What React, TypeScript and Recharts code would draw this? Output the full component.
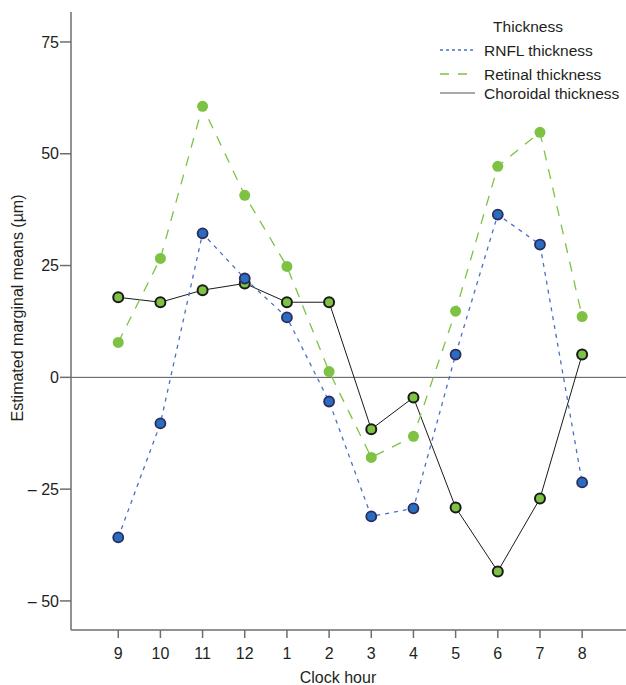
import {
  Line,
  LineChart,
  ReferenceLine,
  XAxis,
  YAxis,
} from "recharts";

const clockHours = ["9", "10", "11", "12", "1", "2", "3", "4", "5", "6", "7", "8"];
const rnfl = [-35.8, -10.3, 32.2, 22.1, 13.4, -5.4, -31.1, -29.3, 5.1, 36.4, 29.7, -23.5];
const retinal = [7.8, 26.6, 60.6, 40.7, 24.8, 1.3, -17.9, -13.2, 14.8, 47.2, 54.8, 13.6];
const choroidal = [17.9, 16.8, 19.5, 21.0, 16.8, 16.8, -11.6, -4.5, -29.1, -43.4, -27.1, 5.1];
const yTicks = [-50, -25, 0, 25, 50, 75];

const data = clockHours.map((hour, i) => ({
  idx: i,
  hour,
  rnfl: rnfl[i],
  retinal: retinal[i],
  choroidal: choroidal[i],
}));

const font = "'Liberation Sans', Arial, sans-serif";
const textColor = "#231f20";
const axisColor = "#6d6e71";
const blue = "#4a6fc6";
const green = "#7dc242";

const legendItems = [
  { label: "RNFL thickness", color: blue, dash: "3 3", width: 1.5 },
  { label: "Retinal thickness", color: green, dash: "9 9", width: 1.5 },
  { label: "Choroidal thickness", color: "#555", dash: undefined, width: 1.2 },
];

function ThicknessLegend() {
  return (
    <svg
      width={190}
      height={90}
      style={{ fontFamily: font, display: "block", position: "absolute", left: 436, top: 10 }}
    >
      <text x={92} y={22} textAnchor="middle" fontSize={15.5} fill={textColor}>
        Thickness
      </text>
      {legendItems.map((item, i) => {
        const y = [40, 64, 83][i];
        return (
          <g key={item.label}>
            <line
              x1={4}
              x2={39}
              y1={y}
              y2={y}
              stroke={item.color}
              strokeWidth={item.width}
              strokeDasharray={item.dash}
            />
            <text x={48} y={y + 5.5} fontSize={15.5} fill={textColor}>
              {item.label}
            </text>
          </g>
        );
      })}
    </svg>
  );
}

const formatY = (v: number) => (v < 0 ? `\u2013 ${Math.abs(v)}` : `${v}`);

export default function App() {
  return (
    <div style={{ position: "absolute", left: 0, top: 0, width: 626, height: 685, background: "#fff" }}>
      <LineChart
        width={626}
        height={685}
        data={data}
        margin={{ top: 12, right: 0, bottom: 0, left: 0 }}
        style={{ fontFamily: font }}
      >
        <XAxis
          dataKey="idx"
          type="number"
          domain={[-1.12, 12.04]}
          ticks={data.map((d) => d.idx)}
          tickFormatter={(v: number) => clockHours[v]}
          height={55}
          stroke={axisColor}
          strokeWidth={1.5}
          tickSize={8}
          tickMargin={10}
          tick={{ fill: textColor, fontSize: 16 }}
          interval={0}
          label={() => (
            <text x={338} y={683} textAnchor="middle" fill={textColor} fontSize={16} fontFamily={font}>
              Clock hour
            </text>
          )}
        />
        <YAxis
          type="number"
          domain={[-56.5, 81.7]}
          ticks={yTicks}
          tickFormatter={formatY}
          width={71}
          stroke={axisColor}
          strokeWidth={1.5}
          tickSize={11}
          tickMargin={1}
          tick={{ fill: textColor, fontSize: 16 }}
          label={() => (
            <text
              x={23}
              y={308}
              transform="rotate(-90 23 308)"
              textAnchor="middle"
              fill={textColor}
              fontSize={16}
              fontFamily={font}
            >
              Estimated marginal means (µm)
            </text>
          )}
        />
        <ReferenceLine y={0} stroke="#555" strokeWidth={1} />
        <Line
          dataKey="choroidal"
          stroke="#1a1a1a"
          strokeWidth={1}
          dot={{ r: 5, fill: green, stroke: "#1a1a1a", strokeWidth: 2, strokeDasharray: "0" }}
          isAnimationActive={false}
          legendType="none"
        />
        <Line
          dataKey="retinal"
          stroke={green}
          strokeWidth={1.3}
          strokeDasharray="10 9"
          dot={{ r: 5.5, fill: green, stroke: "none", strokeDasharray: "0" }}
          isAnimationActive={false}
          legendType="none"
        />
        <Line
          dataKey="rnfl"
          stroke={blue}
          strokeWidth={1.3}
          strokeDasharray="4 5"
          dot={{ r: 5, fill: "#2a6cc0", stroke: "#2b2d5c", strokeWidth: 1.8, strokeDasharray: "0" }}
          isAnimationActive={false}
          legendType="none"
        />
      </LineChart>
      <ThicknessLegend />
    </div>
  );
}
